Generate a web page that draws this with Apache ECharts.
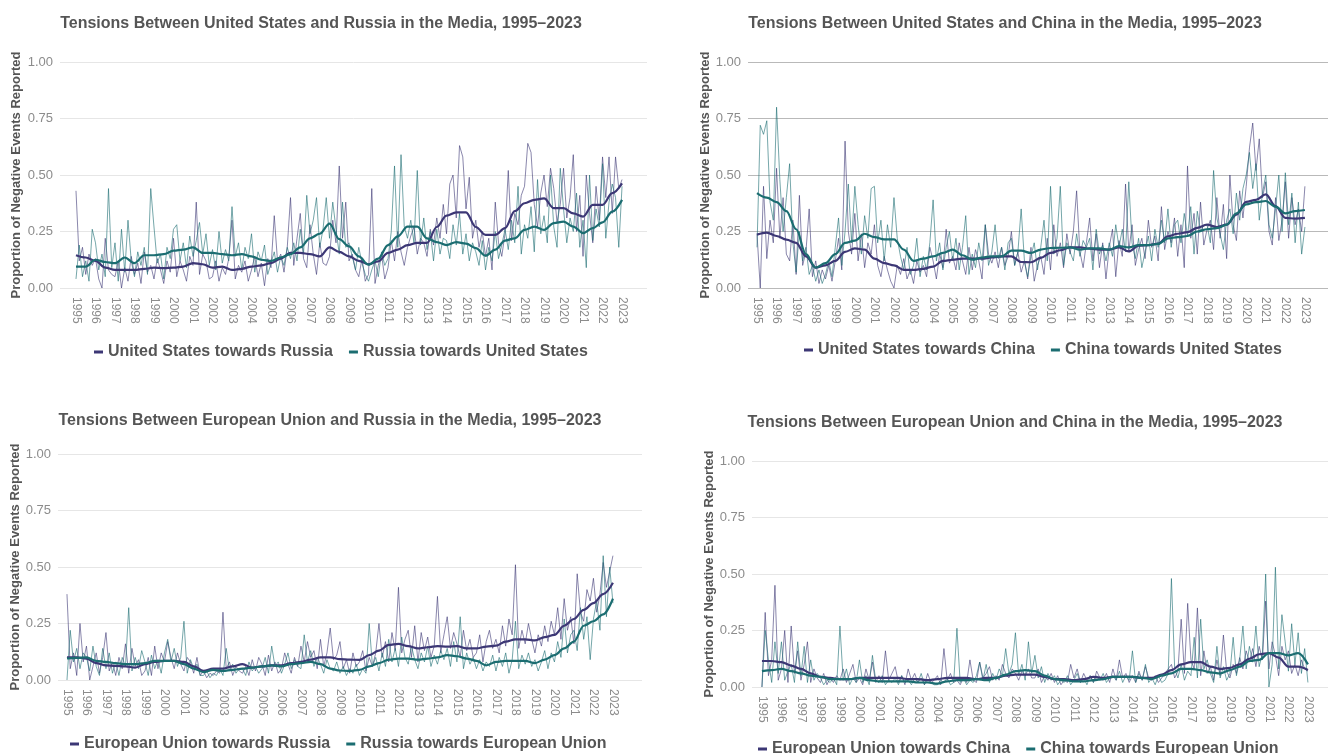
<!DOCTYPE html>
<html>
<head>
<meta charset="utf-8">
<title>Tensions in the Media, 1995–2023</title>
<script src="https://cdn.jsdelivr.net/npm/echarts@6/dist/echarts.min.js"></script>
<style>
  html, body { margin: 0; padding: 0; background: #fff; }
  #chart { width: 1328px; height: 754px; }
</style>
</head>
<body>
<div id="chart"></div>
<script>
// Year ticks shown on every x axis
const yearTicks = [1995, 1996, 1997, 1998, 1999, 2000, 2001, 2002, 2003, 2004,
  2005, 2006, 2007, 2008, 2009, 2010, 2011, 2012, 2013, 2014,
  2015, 2016, 2017, 2018, 2019, 2020, 2021, 2022, 2023];
const yTicks = [0, 0.25, 0.5, 0.75, 1];

// Raw series: one value every two months, starting January 1995
const usTowardsRussiaRaw = [
  0.43, 0.12, 0.18, 0.06, 0.15, 0.10,
  0.13, 0.04, 0.00, 0.22, 0.08, 0.06,
  0.05, 0.12, 0.00, 0.09, 0.03, 0.14,
  0.06, 0.11, 0.02, 0.16, 0.07, 0.10,
  0.04, 0.13, 0.08, 0.02, 0.12, 0.07,
  0.22, 0.05, 0.12, 0.08, 0.03, 0.14,
  0.10, 0.38, 0.06, 0.15, 0.12, 0.04,
  0.05, 0.12, 0.03, 0.09, 0.06, 0.13,
  0.30, 0.04, 0.10, 0.07, 0.12, 0.03,
  0.08, 0.14, 0.05, 0.11, 0.01, 0.13,
  0.09, 0.32, 0.12, 0.15, 0.07, 0.18,
  0.40, 0.10, 0.22, 0.33, 0.13, 0.09,
  0.28, 0.15, 0.06, 0.20, 0.11, 0.10,
  0.14, 0.30, 0.20, 0.54, 0.22, 0.38,
  0.12, 0.15, 0.08, 0.05, 0.13, 0.03,
  0.06, 0.44, 0.02, 0.10, 0.15, 0.04,
  0.09, 0.21, 0.12, 0.25, 0.16, 0.10,
  0.18, 0.23, 0.27, 0.15, 0.22, 0.20,
  0.14, 0.26, 0.19, 0.31, 0.22, 0.37,
  0.24, 0.46, 0.50, 0.31, 0.63, 0.58,
  0.35, 0.49, 0.22, 0.30, 0.18, 0.25,
  0.14, 0.22, 0.08, 0.38, 0.20, 0.14,
  0.24, 0.52, 0.21, 0.33, 0.28, 0.41,
  0.45, 0.64, 0.60, 0.37, 0.27, 0.42,
  0.50, 0.36, 0.53, 0.44, 0.29, 0.37,
  0.53, 0.31, 0.40, 0.59, 0.25, 0.41,
  0.14, 0.50, 0.33, 0.20, 0.45, 0.30,
  0.58, 0.40, 0.58, 0.33, 0.58, 0.44,
  0.48
];
const russiaTowardsUsRaw = [
  0.04, 0.19, 0.05, 0.12, 0.03, 0.26,
  0.20, 0.08, 0.15, 0.05, 0.44, 0.09,
  0.20, 0.03, 0.26, 0.07, 0.30, 0.12,
  0.05, 0.16, 0.10, 0.18, 0.06, 0.44,
  0.27, 0.11, 0.15, 0.04, 0.18, 0.13,
  0.26, 0.28, 0.12, 0.20, 0.09, 0.23,
  0.14, 0.21, 0.29, 0.15, 0.24, 0.10,
  0.17, 0.08, 0.25, 0.11, 0.17, 0.12,
  0.36, 0.14, 0.20, 0.08, 0.18, 0.13,
  0.24, 0.07, 0.16, 0.12, 0.19, 0.06,
  0.11, 0.16, 0.07, 0.14, 0.10, 0.18,
  0.13, 0.20, 0.12, 0.26, 0.15, 0.41,
  0.24, 0.30, 0.40, 0.18, 0.26, 0.40,
  0.22, 0.38, 0.26, 0.15, 0.38, 0.18,
  0.20, 0.14, 0.08, 0.18, 0.11, 0.06,
  0.03, 0.08, 0.12, 0.05, 0.16, 0.10,
  0.13, 0.25, 0.54, 0.18, 0.59, 0.27,
  0.22, 0.30, 0.20, 0.52, 0.19, 0.31,
  0.17, 0.25, 0.12, 0.26, 0.15, 0.22,
  0.21, 0.13, 0.28, 0.19, 0.33, 0.15,
  0.24, 0.12, 0.20, 0.16, 0.10, 0.21,
  0.08, 0.18, 0.12, 0.25, 0.13, 0.19,
  0.26, 0.17, 0.30, 0.20, 0.45, 0.15,
  0.28, 0.22, 0.36, 0.16, 0.48, 0.24,
  0.32, 0.20, 0.50, 0.27, 0.18, 0.53,
  0.35, 0.20, 0.31, 0.25, 0.42, 0.18,
  0.30, 0.09, 0.50, 0.21, 0.35, 0.27,
  0.55, 0.22, 0.38, 0.46, 0.40, 0.18,
  0.45
];
const usTowardsChinaRaw = [
  0.24, 0.00, 0.45, 0.13, 0.30, 0.20,
  0.53, 0.22, 0.40, 0.15, 0.12, 0.30,
  0.06, 0.41, 0.10, 0.16, 0.35, 0.05,
  0.12, 0.02, 0.08, 0.04, 0.10, 0.03,
  0.12, 0.22, 0.08, 0.65, 0.25, 0.15,
  0.33, 0.12, 0.24, 0.09, 0.20, 0.15,
  0.28, 0.10, 0.05, 0.14, 0.08, 0.03,
  0.00, 0.10, 0.06, 0.13, 0.04, 0.08,
  0.02, 0.12, 0.07, 0.10, 0.05, 0.18,
  0.12, 0.04, 0.15, 0.09, 0.26, 0.11,
  0.14, 0.08, 0.20, 0.12, 0.06, 0.18,
  0.08, 0.17, 0.12, 0.04, 0.28, 0.15,
  0.11, 0.16, 0.09, 0.18, 0.10, 0.14,
  0.25, 0.10, 0.16, 0.07, 0.12, 0.04,
  0.18, 0.03, 0.10, 0.14, 0.06, 0.22,
  0.08, 0.28, 0.14, 0.20, 0.09, 0.24,
  0.15, 0.25, 0.43, 0.16, 0.09, 0.20,
  0.31, 0.12, 0.24, 0.09, 0.20, 0.04,
  0.18, 0.26, 0.05, 0.21, 0.14, 0.46,
  0.16, 0.28, 0.10, 0.17, 0.22, 0.13,
  0.30, 0.18, 0.23, 0.12, 0.36, 0.17,
  0.25, 0.20, 0.31, 0.14, 0.28, 0.09,
  0.54, 0.22, 0.33, 0.15, 0.38, 0.19,
  0.26, 0.30, 0.17, 0.40, 0.22, 0.37,
  0.13, 0.50, 0.28, 0.21, 0.43, 0.31,
  0.45, 0.62, 0.73, 0.52, 0.66, 0.40,
  0.47, 0.25, 0.19, 0.40, 0.21, 0.30,
  0.47, 0.22, 0.40, 0.28, 0.35, 0.25,
  0.45
];
const chinaTowardsUsRaw = [
  0.18, 0.72, 0.68, 0.74, 0.38, 0.30,
  0.80, 0.48, 0.25, 0.40, 0.55, 0.20,
  0.07, 0.25, 0.12, 0.18, 0.06, 0.10,
  0.03, 0.08, 0.02, 0.06, 0.12, 0.05,
  0.18, 0.31, 0.10, 0.25, 0.46, 0.20,
  0.45, 0.28, 0.15, 0.32, 0.22, 0.44,
  0.45, 0.20, 0.30, 0.12, 0.28, 0.18,
  0.40, 0.22, 0.14, 0.08, 0.18, 0.06,
  0.10, 0.22, 0.05, 0.14, 0.08, 0.20,
  0.39, 0.12, 0.20, 0.08, 0.18, 0.25,
  0.12, 0.22, 0.08, 0.18, 0.32, 0.06,
  0.15, 0.09, 0.20, 0.12, 0.28, 0.10,
  0.16, 0.28, 0.13, 0.18, 0.08, 0.20,
  0.22, 0.10, 0.16, 0.35, 0.12, 0.05,
  0.14, 0.20, 0.08, 0.18, 0.30, 0.12,
  0.45, 0.15, 0.22, 0.45, 0.10, 0.20,
  0.16, 0.12, 0.24, 0.14, 0.21, 0.18,
  0.22, 0.08, 0.26, 0.15, 0.19, 0.12,
  0.20, 0.14, 0.28, 0.18, 0.26, 0.16,
  0.47, 0.20, 0.13, 0.22, 0.09, 0.16,
  0.23, 0.12, 0.26, 0.18, 0.30, 0.20,
  0.35, 0.18, 0.28, 0.30, 0.20, 0.33,
  0.23, 0.36, 0.15, 0.34, 0.25, 0.28,
  0.28, 0.20, 0.52, 0.31, 0.24, 0.17,
  0.30, 0.35, 0.24, 0.42, 0.30, 0.44,
  0.50, 0.60, 0.44, 0.55, 0.30, 0.42,
  0.50, 0.28, 0.22, 0.35, 0.50, 0.25,
  0.51, 0.28, 0.42, 0.20, 0.38, 0.15,
  0.27
];
const euTowardsRussiaRaw = [
  0.38, 0.05, 0.12, 0.02, 0.25, 0.08,
  0.15, 0.00, 0.06, 0.12, 0.03, 0.10,
  0.21, 0.04, 0.08, 0.02, 0.10, 0.05,
  0.16, 0.03, 0.14, 0.06, 0.09, 0.02,
  0.04, 0.10, 0.02, 0.15, 0.05, 0.12,
  0.08, 0.17, 0.10, 0.05, 0.12, 0.07,
  0.04, 0.10, 0.08, 0.03, 0.10, 0.02,
  0.04, 0.01, 0.03, 0.02, 0.04, 0.03,
  0.30, 0.05, 0.08, 0.02, 0.06, 0.04,
  0.03, 0.06, 0.02, 0.09, 0.04, 0.10,
  0.07, 0.02, 0.11, 0.04, 0.08, 0.03,
  0.05, 0.12, 0.07, 0.03, 0.10, 0.06,
  0.15, 0.08, 0.17, 0.10, 0.13, 0.05,
  0.18, 0.06, 0.12, 0.23, 0.09, 0.11,
  0.17, 0.05, 0.09, 0.03, 0.12, 0.06,
  0.08, 0.13, 0.04, 0.10, 0.06, 0.12,
  0.25, 0.10, 0.17, 0.08, 0.21, 0.13,
  0.41, 0.12, 0.18, 0.22, 0.10, 0.24,
  0.08, 0.21, 0.13, 0.19, 0.10, 0.15,
  0.37, 0.12, 0.20, 0.28, 0.14, 0.21,
  0.16, 0.10, 0.22, 0.13, 0.18, 0.10,
  0.12, 0.20, 0.08, 0.17, 0.22, 0.14,
  0.18, 0.12, 0.24, 0.15, 0.27, 0.20,
  0.51, 0.14, 0.22, 0.16, 0.25, 0.18,
  0.12, 0.20, 0.15, 0.24, 0.17, 0.26,
  0.20, 0.32, 0.18, 0.36, 0.22, 0.28,
  0.16, 0.47, 0.30, 0.26, 0.40, 0.35,
  0.45, 0.30, 0.38, 0.52, 0.41, 0.48,
  0.55
];
const russiaTowardsEuRaw = [
  0.00, 0.22, 0.08, 0.14, 0.05, 0.12,
  0.10, 0.04, 0.15, 0.06, 0.02, 0.14,
  0.05, 0.12, 0.03, 0.08, 0.02, 0.10,
  0.06, 0.32, 0.04, 0.10, 0.05, 0.13,
  0.08, 0.02, 0.11, 0.05, 0.09, 0.03,
  0.12, 0.18, 0.08, 0.14, 0.06, 0.10,
  0.26, 0.03, 0.09, 0.05, 0.07, 0.02,
  0.02, 0.04, 0.01, 0.03, 0.02, 0.05,
  0.02, 0.14, 0.04, 0.07, 0.03, 0.05,
  0.05, 0.02, 0.08, 0.04, 0.06, 0.03,
  0.05, 0.10, 0.03, 0.15, 0.06, 0.08,
  0.03, 0.07, 0.12, 0.05, 0.09, 0.06,
  0.05, 0.20, 0.08, 0.13, 0.06, 0.10,
  0.07, 0.03, 0.09, 0.05, 0.04, 0.08,
  0.03, 0.06, 0.02, 0.05, 0.03, 0.07,
  0.02, 0.05, 0.03, 0.25, 0.06, 0.10,
  0.04, 0.12, 0.06, 0.18, 0.08, 0.14,
  0.06, 0.19, 0.10, 0.07, 0.15, 0.09,
  0.05, 0.12, 0.08, 0.15, 0.06, 0.11,
  0.07, 0.13, 0.09, 0.14, 0.06, 0.17,
  0.08, 0.28, 0.05, 0.12, 0.07, 0.10,
  0.05, 0.09, 0.04, 0.08, 0.06, 0.11,
  0.04, 0.10, 0.06, 0.12, 0.03, 0.09,
  0.26, 0.05, 0.11, 0.07, 0.12, 0.06,
  0.09, 0.04, 0.08, 0.13, 0.05, 0.12,
  0.08, 0.17, 0.10, 0.27, 0.12, 0.20,
  0.22, 0.13, 0.32, 0.18, 0.28, 0.09,
  0.27, 0.35, 0.22, 0.55, 0.28, 0.50,
  0.34
];
const euTowardsChinaRaw = [
  0.00, 0.33, 0.05, 0.12, 0.45, 0.03,
  0.08, 0.25, 0.02, 0.27, 0.06, 0.16,
  0.03, 0.10, 0.20, 0.02, 0.08, 0.04,
  0.02, 0.06, 0.01, 0.04, 0.02, 0.05,
  0.03, 0.08, 0.02, 0.06, 0.10, 0.02,
  0.04, 0.01, 0.08, 0.03, 0.11, 0.02,
  0.05, 0.02, 0.16, 0.03, 0.06, 0.09,
  0.02, 0.05, 0.01, 0.08, 0.03, 0.06,
  0.02, 0.04, 0.01, 0.06, 0.02, 0.03,
  0.05, 0.01, 0.17, 0.03, 0.06, 0.02,
  0.03, 0.01, 0.04, 0.02, 0.12, 0.03,
  0.02, 0.11, 0.04, 0.06, 0.09, 0.03,
  0.05, 0.03, 0.10, 0.06, 0.04, 0.08,
  0.06, 0.03, 0.07, 0.05, 0.08, 0.04,
  0.04, 0.08, 0.02, 0.05, 0.03, 0.06,
  0.02, 0.05, 0.01, 0.03, 0.02, 0.10,
  0.04, 0.08, 0.02, 0.06, 0.03, 0.05,
  0.02, 0.07, 0.04, 0.03, 0.06, 0.02,
  0.08, 0.03, 0.12, 0.04, 0.06, 0.02,
  0.05, 0.02, 0.07, 0.03, 0.09, 0.04,
  0.03, 0.05, 0.02, 0.04, 0.06, 0.08,
  0.10, 0.04, 0.07, 0.30, 0.06, 0.37,
  0.12, 0.08, 0.35, 0.05, 0.16, 0.06,
  0.09, 0.03, 0.12, 0.05, 0.23, 0.07,
  0.04, 0.10, 0.06, 0.13, 0.08, 0.16,
  0.11, 0.17, 0.09, 0.18, 0.12, 0.38,
  0.08, 0.20, 0.14, 0.05, 0.18, 0.12,
  0.16, 0.06, 0.10, 0.05, 0.12, 0.08,
  0.07
];
const chinaTowardsEuRaw = [
  0.00, 0.25, 0.12, 0.02, 0.20, 0.06,
  0.20, 0.03, 0.07, 0.10, 0.02, 0.20,
  0.05, 0.18, 0.02, 0.12, 0.03, 0.06,
  0.04, 0.01, 0.03, 0.02, 0.04, 0.01,
  0.27, 0.03, 0.08, 0.01, 0.04, 0.02,
  0.12, 0.02, 0.05, 0.01, 0.14, 0.03,
  0.02, 0.05, 0.01, 0.03, 0.02, 0.04,
  0.01, 0.05, 0.02, 0.03, 0.01, 0.04,
  0.02, 0.06, 0.01, 0.03, 0.02, 0.01,
  0.01, 0.03, 0.02, 0.04, 0.01, 0.02,
  0.26, 0.02, 0.04, 0.01, 0.03, 0.02,
  0.05, 0.11, 0.03, 0.10, 0.02, 0.06,
  0.03, 0.08, 0.05, 0.17, 0.06, 0.10,
  0.24, 0.05, 0.10, 0.03, 0.20, 0.06,
  0.14, 0.04, 0.09, 0.02, 0.06, 0.03,
  0.05, 0.01, 0.03, 0.02, 0.05, 0.01,
  0.03, 0.06, 0.02, 0.04, 0.01, 0.05,
  0.02, 0.05, 0.03, 0.06, 0.02, 0.04,
  0.05, 0.03, 0.07, 0.02, 0.05, 0.03,
  0.16, 0.02, 0.06, 0.03, 0.10, 0.02,
  0.04, 0.01, 0.05, 0.02, 0.03, 0.06,
  0.48, 0.08, 0.04, 0.10, 0.03, 0.07,
  0.05, 0.22, 0.04, 0.30, 0.08, 0.12,
  0.06, 0.02, 0.18, 0.04, 0.09, 0.03,
  0.06, 0.22, 0.05, 0.12, 0.27, 0.08,
  0.18, 0.11, 0.27, 0.09, 0.15, 0.50,
  0.00, 0.10, 0.53, 0.08, 0.32, 0.20,
  0.07, 0.28, 0.10, 0.24, 0.06, 0.17,
  0.02
];

// Smoothed trends: one value every half year, starting January 1995
const usTowardsRussiaTrend = [
  0.145, 0.135, 0.12, 0.09, 0.08, 0.08, 0.08, 0.085, 0.09, 0.088,
  0.09, 0.095, 0.11, 0.105, 0.09, 0.095, 0.08, 0.085, 0.095, 0.10,
  0.11, 0.13, 0.155, 0.155, 0.15, 0.14, 0.18, 0.16, 0.14, 0.12,
  0.105, 0.118, 0.155, 0.17, 0.19, 0.20, 0.20, 0.27, 0.32, 0.335,
  0.335, 0.27, 0.235, 0.235, 0.265, 0.34, 0.375, 0.39, 0.397, 0.353,
  0.353, 0.33, 0.316, 0.368, 0.368, 0.42, 0.463
];
const russiaTowardsUsTrend = [
  0.095, 0.095, 0.125, 0.115, 0.11, 0.135, 0.11, 0.145, 0.145, 0.15,
  0.165, 0.17, 0.18, 0.155, 0.155, 0.15, 0.145, 0.15, 0.14, 0.125,
  0.12, 0.135, 0.15, 0.18, 0.22, 0.24, 0.285, 0.216, 0.184, 0.14,
  0.103, 0.13, 0.19, 0.228, 0.272, 0.272, 0.22, 0.203, 0.19, 0.203,
  0.196, 0.176, 0.143, 0.17, 0.21, 0.22, 0.257, 0.272, 0.257, 0.287,
  0.294, 0.272, 0.243, 0.265, 0.29, 0.338, 0.39
];
const usTowardsChinaTrend = [
  0.236, 0.245, 0.23, 0.214, 0.20, 0.14, 0.09, 0.10, 0.12, 0.16,
  0.175, 0.17, 0.13, 0.11, 0.10, 0.08, 0.08, 0.085, 0.095, 0.12,
  0.125, 0.13, 0.13, 0.13, 0.135, 0.14, 0.14, 0.115, 0.114, 0.133,
  0.155, 0.167, 0.18, 0.18, 0.174, 0.17, 0.17, 0.18, 0.162, 0.187,
  0.19, 0.196, 0.229, 0.24, 0.247, 0.266, 0.28, 0.27, 0.28, 0.325,
  0.381, 0.39, 0.414, 0.362, 0.31, 0.307, 0.31
];
const chinaTowardsUsTrend = [
  0.42, 0.40, 0.38, 0.34, 0.26, 0.15, 0.09, 0.11, 0.15, 0.20,
  0.21, 0.24, 0.225, 0.215, 0.215, 0.17, 0.12, 0.13, 0.14, 0.155,
  0.17, 0.145, 0.125, 0.135, 0.14, 0.14, 0.165, 0.165, 0.155, 0.17,
  0.177, 0.178, 0.18, 0.17, 0.175, 0.175, 0.17, 0.185, 0.18, 0.19,
  0.19, 0.195, 0.22, 0.225, 0.23, 0.25, 0.26, 0.265, 0.28, 0.33,
  0.37, 0.38, 0.385, 0.36, 0.33, 0.34, 0.345
];
const euTowardsRussiaTrend = [
  0.10, 0.10, 0.095, 0.075, 0.065, 0.062, 0.06, 0.055, 0.07, 0.08,
  0.085, 0.085, 0.08, 0.06, 0.04, 0.05, 0.05, 0.06, 0.07, 0.055,
  0.06, 0.065, 0.065, 0.075, 0.08, 0.09, 0.10, 0.10, 0.092, 0.09,
  0.089, 0.11, 0.13, 0.155, 0.16, 0.15, 0.14, 0.145, 0.15, 0.148,
  0.15, 0.14, 0.14, 0.148, 0.152, 0.17, 0.18, 0.18, 0.175, 0.19,
  0.20, 0.24, 0.27, 0.31, 0.34, 0.38, 0.43
];
const russiaTowardsEuTrend = [
  0.095, 0.098, 0.10, 0.085, 0.08, 0.075, 0.07, 0.07, 0.075, 0.085,
  0.085, 0.085, 0.07, 0.05, 0.035, 0.045, 0.04, 0.045, 0.05, 0.055,
  0.06, 0.065, 0.06, 0.07, 0.075, 0.08, 0.07, 0.05, 0.042, 0.04,
  0.045, 0.06, 0.075, 0.09, 0.095, 0.095, 0.09, 0.095, 0.10, 0.11,
  0.105, 0.095, 0.085, 0.065, 0.08, 0.085, 0.085, 0.085, 0.075, 0.09,
  0.11, 0.14, 0.17, 0.24, 0.26, 0.29, 0.36
];
const euTowardsChinaTrend = [
  0.115, 0.115, 0.11, 0.095, 0.08, 0.06, 0.045, 0.04, 0.035, 0.035,
  0.04, 0.04, 0.04, 0.04, 0.04, 0.035, 0.035, 0.03, 0.035, 0.04,
  0.04, 0.04, 0.035, 0.04, 0.04, 0.05, 0.055, 0.055, 0.055, 0.045,
  0.035, 0.035, 0.03, 0.035, 0.045, 0.04, 0.045, 0.045, 0.045, 0.04,
  0.04, 0.055, 0.075, 0.10, 0.11, 0.11, 0.09, 0.08, 0.085, 0.10,
  0.125, 0.145, 0.15, 0.13, 0.09, 0.09, 0.075
];
const chinaTowardsEuTrend = [
  0.07, 0.075, 0.08, 0.07, 0.06, 0.05, 0.045, 0.035, 0.035, 0.035,
  0.04, 0.03, 0.025, 0.025, 0.025, 0.025, 0.02, 0.02, 0.015, 0.025,
  0.03, 0.03, 0.035, 0.03, 0.04, 0.055, 0.07, 0.075, 0.07, 0.05,
  0.035, 0.03, 0.025, 0.025, 0.03, 0.035, 0.045, 0.045, 0.045, 0.04,
  0.035, 0.05, 0.06, 0.08, 0.08, 0.075, 0.065, 0.06, 0.075, 0.09,
  0.115, 0.12, 0.15, 0.15, 0.14, 0.15, 0.10
];

const START_YEAR = 1995;
const RAW_PER_YEAR = 6;
const TREND_PER_YEAR = 2;

const FONT = '"Liberation Sans", Arial, Helvetica, sans-serif';
const PURPLE = '#3c3775';
const TEAL = '#1b6d71';
const TEXT_DARK = '#555555';
const TEXT_GRAY = '#8c8c8c';

// Pair each value with its date (as a fractional year)
function dated(values, perYear) {
  return values.map((v, i) => [START_YEAR + i / perYear, v]);
}

// Width of a string in the legend font, to centre each legend under its plot
const measureCtx = document.createElement('canvas').getContext('2d');
function textWidth(str, font) {
  measureCtx.font = font;
  return measureCtx.measureText(str).width;
}

const panels = [
  {
    title: 'Tensions Between United States and Russia in the Media, 1995\u20132023',
    titleX: 321, titleY: 16,
    grid: { left: 60, top: 62, width: 587, height: 226 },
    xMin: 1994.18, xMax: 2024.28, gridColor: '#e6e6e6', nameGap: 37,
    legendX: 341, legendY: 344,
    names: ['United States towards Russia', 'Russia towards United States'],
    raw: [usTowardsRussiaRaw, russiaTowardsUsRaw],
    trend: [usTowardsRussiaTrend, russiaTowardsUsTrend]
  },
  {
    title: 'Tensions Between United States and China in the Media, 1995\u20132023',
    titleX: 1005, titleY: 16,
    grid: { left: 748, top: 62, width: 580, height: 226 },
    xMin: 1994.54, xMax: 2024.18, gridColor: '#b9b9b9', nameGap: 32,
    legendX: 1043, legendY: 342,
    names: ['United States towards China', 'China towards United States'],
    raw: [usTowardsChinaRaw, chinaTowardsUsRaw],
    trend: [usTowardsChinaTrend, chinaTowardsUsTrend]
  },
  {
    title: 'Tensions Between European Union and Russia in the Media, 1995\u20132023',
    titleX: 330, titleY: 413,
    grid: { left: 58, top: 454, width: 584, height: 226 },
    xMin: 1994.54, xMax: 2024.49, gridColor: '#e6e6e6', nameGap: 35,
    legendX: 338, legendY: 736,
    names: ['European Union towards Russia', 'Russia towards European Union'],
    raw: [euTowardsRussiaRaw, russiaTowardsEuRaw],
    trend: [euTowardsRussiaTrend, russiaTowardsEuTrend]
  },
  {
    title: 'Tensions Between European Union and China in the Media, 1995\u20132023',
    titleX: 1015, titleY: 415,
    grid: { left: 752, top: 461, width: 576, height: 226 },
    xMin: 1994.49, xMax: 2024.03, gridColor: '#e6e6e6', nameGap: 34,
    legendX: 1018, legendY: 741,
    names: ['European Union towards China', 'China towards European Union'],
    raw: [euTowardsChinaRaw, chinaTowardsEuRaw],
    trend: [euTowardsChinaTrend, chinaTowardsEuTrend]
  }
];

const LEGEND_ICON_W = 9;
const LEGEND_GAP = 16;
const LEGEND_SIZE = 16;
const LEGEND_FONT = 'bold ' + LEGEND_SIZE + 'px ' + FONT;

const option = {
  animation: false,
  backgroundColor: '#ffffff',
  textStyle: { fontFamily: FONT },
  title: [], grid: [], xAxis: [], yAxis: [], legend: [], series: []
};

panels.forEach((p, i) => {
  option.title.push({
    text: p.title,
    left: p.titleX,
    top: p.titleY,
    textAlign: 'center',
    padding: 0,
    textStyle: { fontFamily: FONT, fontSize: 16, fontWeight: 'bold', color: TEXT_DARK }
  });

  option.grid.push(Object.assign({ containLabel: false }, p.grid));

  option.xAxis.push({
    gridIndex: i,
    type: 'value',
    min: p.xMin,
    max: p.xMax,
    axisLine: { show: false },
    axisTick: { show: false },
    splitLine: { show: false },
    axisLabel: {
      customValues: yearTicks,
      rotate: -90,
      margin: 9,
      fontSize: 12,
      fontFamily: FONT,
      color: TEXT_GRAY,
      formatter: (v) => String(Math.round(v))
    }
  });

  option.yAxis.push({
    gridIndex: i,
    type: 'value',
    min: yTicks[0],
    max: yTicks[yTicks.length - 1],
    interval: 0.25,
    name: 'Proportion of Negative Events Reported',
    nameLocation: 'middle',
    nameGap: p.nameGap,
    nameTextStyle: { fontFamily: FONT, fontSize: 13, fontWeight: 'bold', color: TEXT_DARK },
    axisLine: { show: false },
    axisTick: { show: false },
    splitLine: { lineStyle: { color: p.gridColor, width: 1 } },
    axisLabel: {
      margin: 7,
      fontSize: 13,
      fontFamily: FONT,
      color: TEXT_GRAY,
      formatter: (v) => v.toFixed(2)
    }
  });

  // Centre the legend under its plot
  const legendWidth = p.names.reduce((s, n) => s + LEGEND_ICON_W + 5 + textWidth(n, LEGEND_FONT), 0) + LEGEND_GAP;
  option.legend.push({
    data: p.names,
    left: Math.round(p.legendX - legendWidth / 2),
    top: p.legendY,
    padding: 0,
    icon: 'rect',
    itemWidth: LEGEND_ICON_W,
    itemHeight: 3,
    itemGap: LEGEND_GAP,
    selectedMode: false,
    textStyle: { fontFamily: FONT, fontSize: LEGEND_SIZE, fontWeight: 'bold', color: TEXT_DARK }
  });

  const colors = [PURPLE, TEAL];
  // Raw bimonthly lines underneath
  p.raw.forEach((vals, k) => {
    option.series.push({
      type: 'line',
      name: p.names[k] + ' (raw)',
      xAxisIndex: i,
      yAxisIndex: i,
      data: dated(vals, RAW_PER_YEAR),
      symbol: 'none',
      silent: true,
      z: 2,
      lineStyle: { color: colors[k], width: 1, opacity: 0.6 },
      itemStyle: { color: colors[k] }
    });
  });
  // Smoothed trend lines on top
  p.trend.forEach((vals, k) => {
    option.series.push({
      type: 'line',
      name: p.names[k],
      xAxisIndex: i,
      yAxisIndex: i,
      data: dated(vals, TREND_PER_YEAR),
      symbol: 'none',
      smooth: 0.35,
      smoothMonotone: 'x',
      silent: true,
      z: 3,
      lineStyle: { color: colors[k], width: 2.2 },
      itemStyle: { color: colors[k] }
    });
  });
});

const chart = echarts.init(document.getElementById('chart'), null, { renderer: 'canvas' });
chart.setOption(option);
</script>
</body>
</html>
